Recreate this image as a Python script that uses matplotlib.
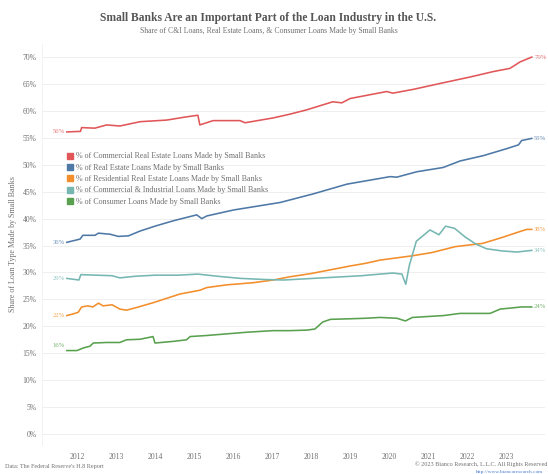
import matplotlib.pyplot as plt
from matplotlib.lines import Line2D

# share of each loan type held by small banks, % (H.8)
cre_t = [2011.74, 2012.09, 2012.12, 2012.46, 2012.76, 2013.10, 2013.62, 2014.30, 2014.81, 2015.10,
         2015.15, 2015.49, 2016.18, 2016.31, 2017.03, 2017.46, 2017.89, 2018.56, 2018.79, 2019.00,
         2019.94, 2020.10, 2020.62, 2021.31, 2022.08, 2022.67, 2023.10, 2023.36, 2023.66]
cre_v = [56.1, 56.2, 56.9, 56.8, 57.4, 57.2, 58.0, 58.3, 58.9, 59.2,
         57.4, 58.2, 58.2, 57.8, 58.7, 59.4, 60.2, 61.7, 61.5, 62.3,
         63.6, 63.3, 64.0, 65.1, 66.3, 67.3, 67.9, 69.1, 70.0]

re_t = [2011.74, 2012.08, 2012.15, 2012.46, 2012.55, 2012.85, 2013.06, 2013.32, 2013.62, 2014.00,
        2014.47, 2015.07, 2015.20, 2015.33, 2016.01, 2016.61, 2017.21, 2018.06, 2018.92, 2020.03,
        2020.20, 2020.71, 2021.39, 2021.82, 2022.42, 2023.02, 2023.32, 2023.40, 2023.66]
re_v = [35.6, 36.2, 36.9, 36.9, 37.3, 37.1, 36.7, 36.8, 37.7, 38.6,
        39.6, 40.7, 40.0, 40.5, 41.6, 42.3, 43.0, 44.6, 46.4, 47.8,
        47.7, 48.7, 49.5, 50.7, 51.7, 53.0, 53.7, 54.5, 54.9]

res_t = [2011.74, 2011.90, 2012.03, 2012.12, 2012.28, 2012.41, 2012.55, 2012.67, 2012.90, 2013.10,
         2013.27, 2013.53, 2013.96, 2014.30, 2014.64, 2015.15, 2015.33, 2015.84, 2016.52, 2017.03,
         2017.46, 2018.00, 2018.50, 2019.00, 2019.40, 2019.77, 2020.60, 2021.10, 2021.70, 2022.40,
         2022.90, 2023.27, 2023.53, 2023.66]
res_v = [22.0, 22.3, 22.6, 23.6, 23.8, 23.6, 24.3, 23.8, 24.0, 23.2,
         23.0, 23.5, 24.4, 25.2, 26.0, 26.7, 27.2, 27.7, 28.1, 28.6,
         29.2, 29.8, 30.5, 31.2, 31.7, 32.3, 33.1, 33.7, 34.8, 35.4,
         36.5, 37.4, 38.0, 38.0]

ci_t = [2011.74, 2012.05, 2012.10, 2012.50, 2012.90, 2013.10, 2013.50, 2014.00, 2014.60, 2015.10,
        2015.60, 2016.20, 2016.80, 2017.30, 2017.80, 2018.30, 2018.80, 2019.30, 2019.77, 2020.10,
        2020.33, 2020.43, 2020.52, 2020.70, 2021.05, 2021.28, 2021.45, 2021.68, 2021.95, 2022.22,
        2022.50, 2022.90, 2023.28, 2023.66]
ci_v = [28.9, 28.6, 29.6, 29.5, 29.4, 29.0, 29.3, 29.5, 29.5, 29.7,
        29.3, 28.9, 28.7, 28.6, 28.8, 29.0, 29.2, 29.4, 29.7, 29.9,
        29.7, 27.8, 31.3, 35.8, 37.9, 37.0, 38.6, 38.2, 36.6, 35.3,
        34.4, 34.0, 33.8, 34.1]

con_t = [2011.74, 2012.00, 2012.17, 2012.33, 2012.42, 2012.76, 2013.10, 2013.27, 2013.62, 2013.95,
         2014.00, 2014.46, 2014.81, 2014.90, 2015.33, 2015.84, 2016.35, 2017.03, 2017.46, 2017.90,
         2018.10, 2018.30, 2018.50, 2019.00, 2019.40, 2019.77, 2020.20, 2020.42, 2020.60, 2021.40,
         2021.82, 2022.59, 2022.85, 2023.40, 2023.66]
con_v = [15.5, 15.5, 16.0, 16.3, 16.9, 17.0, 17.0, 17.5, 17.6, 18.1,
         16.9, 17.2, 17.5, 18.1, 18.3, 18.6, 18.9, 19.2, 19.2, 19.3,
         19.5, 20.8, 21.3, 21.4, 21.5, 21.65, 21.5, 21.0, 21.65, 22.0,
         22.4, 22.4, 23.2, 23.6, 23.6]

names = ["% of Commercial Real Estate Loans Made by Small Banks",
         "% of Real Estate Loans Made by Small Banks",
         "% of Residential Real Estate Loans Made by Small Banks",
         "% of Commercial & Industrial Loans Made by Small Banks",
         "% of Consumer Loans Made by Small Banks"]
colors = ["#e15759", "#4e79a7", "#f28e2b", "#76b7b2", "#59a14f"]
series = [(cre_t, cre_v), (re_t, re_v), (res_t, res_v), (ci_t, ci_v), (con_t, con_v)]
start_dy = [0, 0, 0, 0, 1.0]

years = list(range(2012, 2024))
yticks = list(range(0, 75, 5))

plt.rcParams['font.family'] = ['Liberation Serif', 'DejaVu Serif']

fig = plt.figure(figsize=(5.48, 4.74), dpi=100)
ax = fig.add_axes([0.0766, 0.0616, 0.918, 0.8464])

for (t, v), c, dy in zip(series, colors, start_dy):
    ax.plot(t, v, color=c, lw=1.15, solid_joinstyle='round')
    ax.text(t[0] - 0.06, v[0] + dy, "%d%%" % round(v[0]), color=c, alpha=0.8,
            fontsize=4.8, ha='right', va='center')
    ax.text(t[-1] + 0.06, v[-1], "%d%%" % round(v[-1]), color=c, alpha=0.8,
            fontsize=4.8, ha='left', va='center', clip_on=False)

ax.set_xlim(2011.103, 2024.0)
ax.set_ylim(-2, 72.5)
ax.set_xticks(years)
ax.set_xticklabels([str(y) for y in years])
ax.set_yticks(yticks)
ax.set_yticklabels(["%d%%" % y for y in yticks])
ax.tick_params(length=0, labelsize=5.5, labelcolor="#707070")
ax.tick_params(axis='x', pad=6)
ax.tick_params(axis='y', pad=4)
ax.grid(axis='y', color="#ececec", lw=0.6)
ax.set_axisbelow(True)
for side in ['top', 'right', 'bottom']:
    ax.spines[side].set_visible(False)
ax.spines['left'].set_color("#f0f0f0")
ax.spines['left'].set_linewidth(0.6)
ax.set_ylabel("Share of Loan Type Made by Small Banks", fontsize=5.8, color="#707070", labelpad=4)

handles = [Line2D([], [], ls='', marker='s', markersize=5, color=c) for c in colors]
leg = ax.legend(handles, names, loc='upper left', bbox_to_anchor=(0.045, 0.737), frameon=False,
                fontsize=5.8, handlelength=0.6, handletextpad=0.4, labelspacing=0.42,
                borderaxespad=0)
for txt in leg.get_texts():
    txt.set_color("#707070")

fig.text(0.49, 0.962, "Small Banks Are an Important Part of the Loan Industry in the U.S.",
         ha='center', va='center', fontsize=8.3, fontweight='bold', color="#555555")
fig.text(0.49, 0.935, "Share of C&I Loans, Real Estate Loans, & Consumer Loans Made by Small Banks",
         ha='center', va='center', fontsize=5.6, color="#707070")
fig.text(0.01, 0.015, "Data: The Federal Reserve's H.8 Report", ha='left', va='center',
         fontsize=4.4, color="#707070")
fig.text(0.998, 0.02, "\u00a9 2023 Bianco Research, L.L.C. All Rights Reserved", ha='right',
         va='center', fontsize=4.4, color="#707070")
fig.text(0.93, 0.004, "http://www.biancoresearch.com", ha='center', va='center',
         fontsize=3.8, color="#4a7bd0")

fig.savefig("out.png", dpi=100, facecolor='white')
